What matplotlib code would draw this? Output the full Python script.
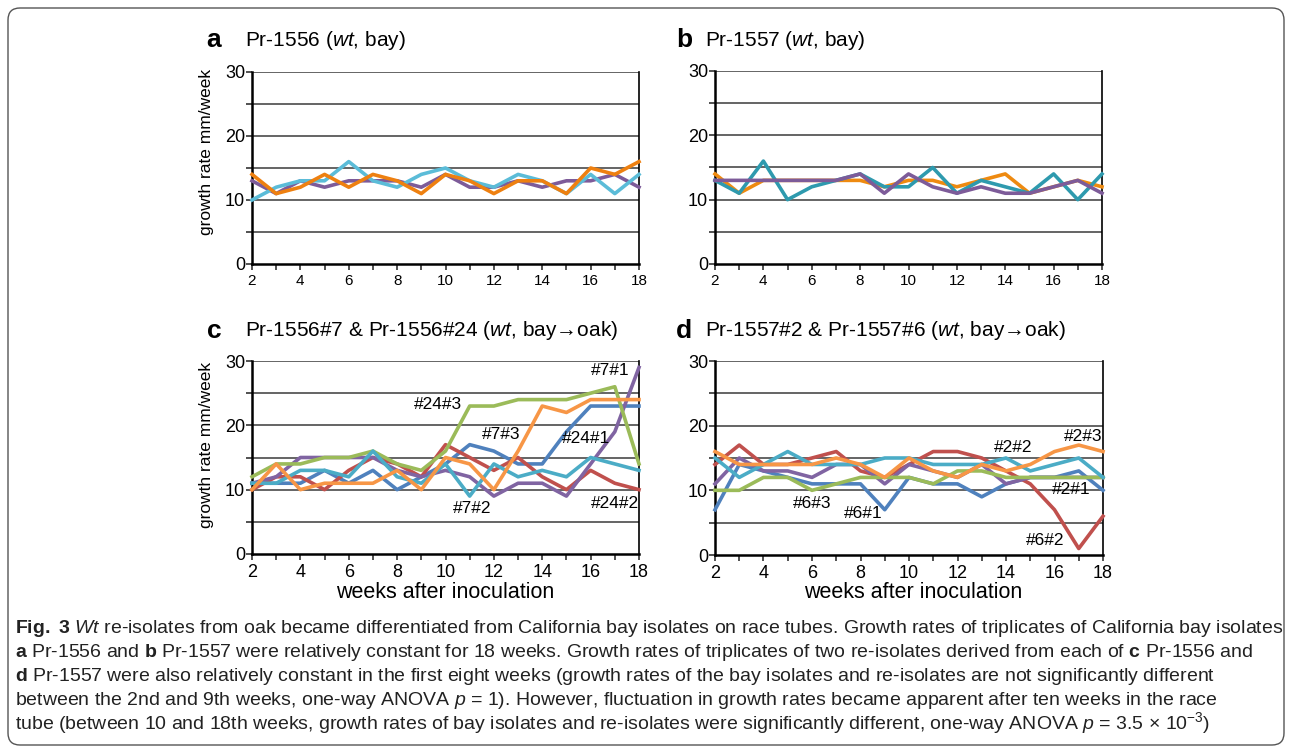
import matplotlib
matplotlib.use("Agg")
import matplotlib.pyplot as plt
from matplotlib import font_manager
from matplotlib.patches import FancyBboxPatch
from matplotlib.ticker import MultipleLocator
from matplotlib.transforms import IdentityTransform

W, H = 1292, 751

# ---- data (growth rate, mm/week, weeks 2..18) ----
WEEKS = list(range(2, 19))

A_PURPLE = [13, 11, 13, 12, 13, 13, 13, 12, 14, 12, 12, 13, 12, 13, 13, 14, 12]
A_CYAN = [10, 12, 13, 13, 16, 13, 12, 14, 15, 13, 12, 14, 13, 11, 14, 11, 14]
A_ORANGE = [14, 11, 12, 14, 12, 14, 13, 11, 14, 13, 11, 13, 13, 11, 15, 14, 16]

B_ORANGE = [14, 11, 13, 13, 13, 13, 13, 12, 13, 13, 12, 13, 14, 11, 12, 13, 12]
B_TEAL = [13, 11, 16, 10, 12, 13, 14, 12, 12, 15, 11, 13, 12, 11, 14, 10, 14]
B_PURPLE = [13, 13, 13, 13, 13, 13, 14, 11, 14, 12, 11, 12, 11, 11, 12, 13, 11]

C_BLUE = [11, 11, 11, 13, 11, 13, 10, 12, 14, 17, 16, 14, 14, 19, 23, 23, 23]
C_RED = [10, 12, 12, 10, 13, 15, 14, 12, 17, 15, 13, 15, 12, 10, 13, 11, 10]
C_PURPLE = [11, 12, 15, 15, 15, 15, 13, 12, 13, 12, 9, 11, 11, 9, 14, 19, 29]
C_GREEN = [12, 14, 14, 15, 15, 16, 14, 13, 16, 23, 23, 24, 24, 24, 25, 26, 14]
C_AQUA = [11, 11, 13, 13, 12, 16, 12, 11, 14, 9, 14, 12, 13, 12, 15, 14, 13]
C_ORANGE = [10, 14, 10, 11, 11, 11, 13, 10, 15, 14, 10, 16, 23, 22, 24, 24, 24]

D_BLUE = [7, 14, 13, 12, 11, 11, 11, 7, 12, 11, 11, 9, 11, 12, 12, 13, 10]
D_RED = [14, 17, 14, 14, 15, 16, 13, 12, 14, 16, 16, 15, 13, 11, 7, 1, 6]
D_PURPLE = [11, 15, 13, 13, 12, 14, 14, 11, 14, 13, 12, 14, 11, 12, 12, 12, 12]
D_GREEN = [10, 10, 12, 12, 10, 11, 12, 12, 12, 11, 13, 13, 12, 12, 12, 12, 12]
D_AQUA = [15, 12, 14, 16, 14, 14, 14, 15, 15, 14, 14, 14, 15, 13, 14, 15, 12]
D_ORANGE = [16, 14, 14, 14, 14, 15, 14, 12, 15, 13, 12, 14, 13, 14, 16, 17, 16]

# isolate labels: (text, week, growth rate)
C_LABELS = [("#24#3", 9.7, 23.2), ("#7#3", 12.3, 18.5), ("#7#2", 11.1, 7.1),
            ("#24#1", 15.8, 18.0), ("#24#2", 17.0, 7.9), ("#7#1", 16.8, 28.5)]
D_LABELS = [("#6#3", 6.0, 7.9), ("#6#1", 8.1, 6.4), ("#2#2", 14.3, 16.7),
            ("#2#3", 17.2, 18.3), ("#2#1", 16.7, 10.1), ("#6#2", 15.6, 2.2)]

CAPTION = [
    r"$\bf{Fig.\ 3}$ $\it{Wt}$ re-isolates from oak became differentiated from California bay isolates on race tubes. Growth rates of triplicates of California bay isolates",
    r"$\bf{a}$ Pr-1556 and $\bf{b}$ Pr-1557 were relatively constant for 18 weeks. Growth rates of triplicates of two re-isolates derived from each of $\bf{c}$ Pr-1556 and",
    r"$\bf{d}$ Pr-1557 were also relatively constant in the first eight weeks (growth rates of the bay isolates and re-isolates are not significantly different",
    r"between the 2nd and 9th weeks, one-way ANOVA $\it{p}$ = 1). However, fluctuation in growth rates became apparent after ten weeks in the race",
    r"tube (between 10 and 18th weeks, growth rates of bay isolates and re-isolates were significantly different, one-way ANOVA $\it{p}$ = 3.5 × $\mathrm{10^{-3}}$)",
]

# ---- palette ----
XL_BLUE, XL_RED, XL_GREEN = "#4F81BD", "#C0504D", "#9BBB59"
XL_PURPLE, XL_AQUA, XL_ORANGE = "#8064A2", "#4BACC6", "#F79646"
GRID = "#3a3a3a"


def has_font(name):
    try:
        font_manager.findfont(name, fallback_to_default=False)
        return True
    except Exception:
        return False


CAP_FONT = "Liberation Sans Narrow" if has_font("Liberation Sans Narrow") else "Liberation Sans"

plt.rcParams.update({
    "font.family": ["Liberation Sans", "DejaVu Sans"],
    "mathtext.fontset": "custom",
    "mathtext.rm": "Liberation Sans",
    "mathtext.it": "Liberation Sans:italic",
    "mathtext.bf": "Liberation Sans:bold",
})


def box(x0, y0, x1, y1):
    # pixel box (top-left origin) -> figure fraction rect
    return [x0 / W, 1 - y1 / H, (x1 - x0) / W, (y1 - y0) / H]


def setup(ax, xfs):
    ax.set_xlim(2, 18)
    ax.set_ylim(0, 30)
    ax.xaxis.set_major_locator(MultipleLocator(2))
    ax.xaxis.set_minor_locator(MultipleLocator(1))
    ax.yaxis.set_major_locator(MultipleLocator(10))
    ax.yaxis.set_minor_locator(MultipleLocator(5))
    for y in range(5, 31, 5):
        ax.axhline(y, color=GRID, lw=1.1, zorder=1)
    for s in ["left", "bottom"]:
        ax.spines[s].set_linewidth(1.8)
        ax.spines[s].set_color("black")
    ax.spines["right"].set_linewidth(1.2)
    ax.spines["top"].set_visible(False)
    ax.tick_params(which="both", direction="out", length=4, width=1.2, color="#333333")
    ax.tick_params(axis="y", labelsize=13, pad=1)
    ax.tick_params(axis="x", labelsize=xfs, pad=3)


def draw(ax, series):
    for vals, c in series:
        ax.plot(WEEKS, vals, color=c, lw=2.6, zorder=3, clip_on=False)


fig = plt.figure(figsize=(W / 100, H / 100), dpi=100)

ax_a = fig.add_axes(box(252, 72, 639, 264))
ax_b = fig.add_axes(box(715, 71, 1102, 264))
ax_c = fig.add_axes(box(252, 361, 639, 554))
ax_d = fig.add_axes(box(715, 361, 1103, 555))

setup(ax_a, 11)
setup(ax_b, 11)
setup(ax_c, 13)
setup(ax_d, 13)

draw(ax_a, [(A_PURPLE, "#7D5B99"), (A_CYAN, "#5BBCD8"), (A_ORANGE, "#EE8010")])
draw(ax_b, [(B_ORANGE, "#EE8A10"), (B_TEAL, "#2E9AAE"), (B_PURPLE, "#7D5B99")])
draw(ax_c, [(C_BLUE, XL_BLUE), (C_RED, XL_RED), (C_PURPLE, XL_PURPLE),
            (C_GREEN, XL_GREEN), (C_AQUA, XL_AQUA), (C_ORANGE, XL_ORANGE)])
draw(ax_d, [(D_BLUE, XL_BLUE), (D_RED, XL_RED), (D_PURPLE, XL_PURPLE),
            (D_GREEN, XL_GREEN), (D_AQUA, XL_AQUA), (D_ORANGE, XL_ORANGE)])

for ax, labels in [(ax_c, C_LABELS), (ax_d, D_LABELS)]:
    for s, x, y in labels:
        ax.text(x, y, s, fontsize=12.5, ha="center", va="center", zorder=5, clip_on=False)

# panel letters + titles
titles = [
    ("a", 214, 40, 245, r"Pr-1556 ($\it{wt}$, bay)"),
    ("b", 684, 40, 705, r"Pr-1557 ($\it{wt}$, bay)"),
    ("c", 214, 331, 245, r"Pr-1556#7 & Pr-1556#24 ($\it{wt}$, bay→oak)"),
    ("d", 684, 331, 705, r"Pr-1557#2 & Pr-1557#6 ($\it{wt}$, bay→oak)"),
]
for letter, lx, y, tx, txt in titles:
    fig.text(lx / W, 1 - y / H, letter, fontsize=19, fontweight="bold", ha="center", va="center")
    fig.text(tx / W, 1 - y / H, txt, fontsize=15, ha="left", va="center")

for y in [152, 445]:
    fig.text(207 / W, 1 - y / H, "growth rate mm/week", rotation=90, fontsize=12.5,
             ha="center", va="center")
for x in [445, 913]:
    fig.text(x / W, 1 - 592 / H, "weeks after inoculation", fontsize=15.5,
             ha="center", va="center")

# caption, font size fitted to the first line's width
renderer = fig.canvas.get_renderer()
cap = []
for i, line in enumerate(CAPTION):
    cap.append(fig.text(15 / W, 1 - (633 + 24 * i) / H, line, fontsize=12,
                        family=[CAP_FONT, "DejaVu Sans"], color="#222222",
                        ha="left", va="baseline"))
w0 = cap[0].get_window_extent(renderer=renderer).width
for t in cap:
    t.set_fontsize(12 * 1265 / w0)

frame = FancyBboxPatch((8, H - 745), 1276, 737, boxstyle="round,pad=0,rounding_size=12",
                       transform=IdentityTransform(), fill=False, ec="#555555", lw=1.0)
fig.patches.append(frame)

fig.savefig("out.png", dpi=100)
